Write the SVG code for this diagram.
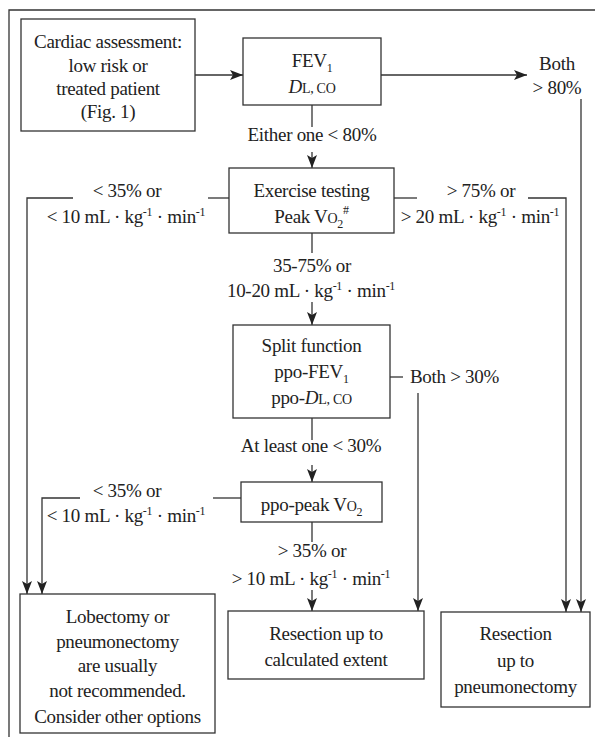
<svg xmlns="http://www.w3.org/2000/svg" width="595" height="737" viewBox="0 0 595 737" font-family="'Liberation Serif', 'Times New Roman', serif">
<defs>
<marker id="ah" markerUnits="userSpaceOnUse" markerWidth="14" markerHeight="10" refX="13" refY="5" orient="auto">
<path d="M0,0 L13,5 L0,10 L3,5 z" fill="#222"/>
</marker>
<style>
text{font-size:19px;fill:#222;text-anchor:middle;letter-spacing:-0.3px}
.box{fill:#fff;stroke:#333;stroke-width:1.3}
.ln{fill:none;stroke:#333;stroke-width:1.3}
.ar{fill:none;stroke:#333;stroke-width:1.3;marker-end:url(#ah)}
.sc{font-size:14px}
.sub{font-size:12px}
.it{font-style:italic}
</style>
</defs>
<rect width="595" height="737" fill="#fff"/>
<g id="frame">
<path class="ln" d="M9,737 V10 H595"/>
</g>
<g id="connectors">
<path class="ar" d="M195,75 H243"/>
<path class="ar" d="M381,75 H527"/>
<path class="ar" d="M581,99 V612"/>
<path class="ln" d="M312,105 V127"/>
<path class="ar" d="M312,152 V168"/>
<path class="ln" d="M229,198 H208"/>
<path class="ar" d="M73,198 H27 V594"/>
<path class="ln" d="M394,198 H417"/>
<path class="ar" d="M528,198 H566 V612"/>
<path class="ln" d="M312,233 V253"/>
<path class="ar" d="M312,302 V325"/>
<path class="ln" d="M390,377 H403"/>
<path class="ar" d="M418,393 V611"/>
<path class="ln" d="M312,418 V440"/>
<path class="ar" d="M312,465 V482"/>
<path class="ln" d="M241,498 H213"/>
<path class="ar" d="M80,498 H42 V594"/>
<path class="ln" d="M312,522 V542"/>
<path class="ar" d="M312,590 V611"/>
</g>
<g id="labels">
<text x="312" y="141">Either one &lt; 80%</text>
<text x="557" y="70">Both</text>
<text x="557" y="94">&gt; 80%</text>
<text x="127" y="197">&lt; 35% or</text>
<text x="126" y="223">&lt; 10 mL · kg<tspan class="sub" dy="-7">-1</tspan><tspan dy="7"> · min</tspan><tspan class="sub" dy="-7">-1</tspan></text>
<text x="481" y="197">&gt; 75% or</text>
<text x="480" y="223">&gt; 20 mL · kg<tspan class="sub" dy="-7">-1</tspan><tspan dy="7"> · min</tspan><tspan class="sub" dy="-7">-1</tspan></text>
<text x="312" y="272">35-75% or</text>
<text x="311" y="297">10-20 mL · kg<tspan class="sub" dy="-7">-1</tspan><tspan dy="7"> · min</tspan><tspan class="sub" dy="-7">-1</tspan></text>
<text x="410" y="383" style="text-anchor:start">Both &gt; 30%</text>
<text x="311" y="452">At least one &lt; 30%</text>
<text x="127" y="497">&lt; 35% or</text>
<text x="126" y="522">&lt; 10 mL · kg<tspan class="sub" dy="-7">-1</tspan><tspan dy="7"> · min</tspan><tspan class="sub" dy="-7">-1</tspan></text>
<text x="312" y="557">&gt; 35% or</text>
<text x="311" y="585">&gt; 10 mL · kg<tspan class="sub" dy="-7">-1</tspan><tspan dy="7"> · min</tspan><tspan class="sub" dy="-7">-1</tspan></text>
</g>
<g id="cardiac">
<rect class="box" x="21" y="19" width="174" height="112"/>
<text x="108" y="48">Cardiac assessment:</text>
<text x="108" y="72">low risk or</text>
<text x="108" y="95">treated patient</text>
<text x="108" y="118">(Fig. 1)</text>
</g>
<g id="fev">
<rect class="box" x="243" y="38" width="138" height="67"/>
<text x="312" y="67">FEV<tspan class="sub" dy="5">1</tspan></text>
<text x="312" y="93"><tspan class="it">D</tspan><tspan class="sc">L, CO</tspan></text>
</g>
<g id="exercise">
<rect class="box" x="229" y="168" width="165" height="65"/>
<text x="311.5" y="197">Exercise testing</text>
<text x="311.5" y="223">Peak V<tspan class="sc">O</tspan><tspan class="sub" dy="5">2</tspan><tspan class="sub" dy="-14">#</tspan></text>
</g>
<g id="split">
<rect class="box" x="233" y="325" width="157" height="93"/>
<text x="311.5" y="352">Split function</text>
<text x="311.5" y="378">ppo-FEV<tspan class="sub" dy="5">1</tspan></text>
<text x="311.5" y="404">ppo-<tspan class="it">D</tspan><tspan class="sc">L, CO</tspan></text>
</g>
<g id="ppopeak">
<rect class="box" x="241" y="482" width="141" height="40"/>
<text x="311.5" y="511">ppo-peak V<tspan class="sc">O</tspan><tspan class="sub" dy="5">2</tspan></text>
</g>
<g id="lobectomy">
<rect class="box" x="20" y="594" width="195" height="139"/>
<text x="117.5" y="623">Lobectomy or</text>
<text x="117.5" y="648">pneumonectomy</text>
<text x="117.5" y="672">are usually</text>
<text x="117.5" y="697">not recommended.</text>
<text x="117.5" y="723">Consider other options</text>
</g>
<g id="resection-calc">
<rect class="box" x="228" y="611" width="196" height="68"/>
<text x="326" y="640">Resection up to</text>
<text x="326" y="666">calculated extent</text>
</g>
<g id="resection-pneu">
<rect class="box" x="441" y="612" width="149" height="95"/>
<text x="515.5" y="640">Resection</text>
<text x="515.5" y="667">up to</text>
<text x="515.5" y="693">pneumonectomy</text>
</g>
</svg>
